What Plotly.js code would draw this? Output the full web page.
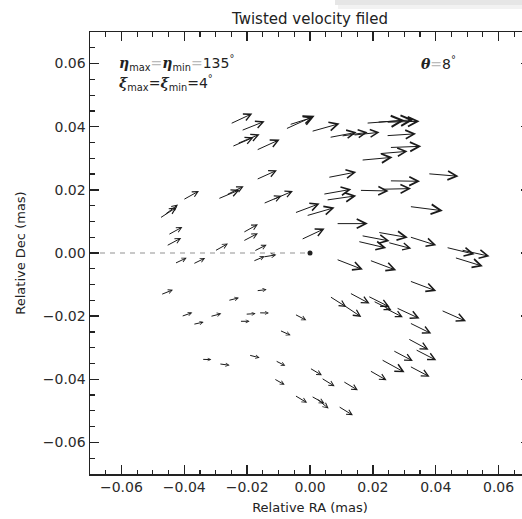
<!DOCTYPE html>
<html><head><meta charset="utf-8">
<script src="https://cdn.plot.ly/plotly-3.0.1.min.js"></script>
<style>html,body{margin:0;padding:0;overflow:hidden;background:#fff}#chart{width:540px;height:519px}</style>
</head><body><div id="chart"></div><script>
// Arrow tails (relative RA / Dec, mas)
const tailX = [-0.02587,-0.02238,-0.02533,-0.02365,-0.01760,-0.00829,-0.00711,-0.00011,0.00561,0.00943,
0.01325,0.01738,0.02088,0.02374,0.02374,0.02479,0.02152,0.01579,0.00520,0.03701,
0.02479,0.01525,0.02215,0.00361,0.00466,-0.00542,-0.00170,-0.01538,-0.01229,0.00784,
-0.00329,0.03115,0.02110,0.01579,0.01474,0.02428,0.03115,0.04283,0.04760,0.04547,
0.00784,0.01843,0.03115,-0.04836,-0.04687,-0.04092,-0.02979,-0.02715,-0.01760,-0.04569,
-0.04623,-0.04359,-0.03774,-0.03087,-0.02184,-0.02184,-0.01834,-0.01865,-0.01547,-0.04798,
-0.01760,-0.02661,-0.04146,-0.03774,-0.03230,-0.02110,-0.02292,-0.01681,-0.01019,-0.00542,
-0.03494,-0.02947,-0.01999,-0.01156,-0.01198,0.00571,0.00997,0.01207,0.01792,0.01961,
0.02320,0.02692,0.04124,0.03115,0.03065,0.03297,0.02587,0.02215,0.03115,0.01843,
-0.00065,0.00307,0.00997,-0.00542,-0.00011,0.00148,0.00848];
const tailY = [0.04067,0.03855,0.03348,0.03443,0.03231,0.03902,0.04045,0.03833,0.03649,0.03697,
0.03728,0.04108,0.04140,0.04140,0.03712,0.03339,0.03142,0.02936,0.02382,0.02515,
0.02287,0.01986,0.02018,0.01850,0.01669,0.01248,0.01163,0.01543,0.01669,0.00931,
0.00402,0.01479,0.00665,0.00561,0.00380,0.00348,0.00529,0.00190,0.00108,-0.00127,
-0.00177,-0.00209,-0.00865,0.01067,0.01163,0.01653,0.01691,0.01812,0.02303,0.00545,
0.00196,-0.00358,-0.00374,0.00032,0.00615,0.00348,0.00032,-0.00285,-0.00136,-0.01340,
-0.01204,-0.01520,-0.02027,-0.02274,-0.02027,-0.01942,-0.02163,-0.01894,-0.02426,-0.01910,
-0.03367,-0.03503,-0.03218,-0.03383,-0.03953,-0.01340,-0.01603,-0.01235,-0.01340,-0.01498,
-0.01710,-0.01710,-0.01793,-0.02186,-0.02686,-0.03028,-0.03060,-0.03345,-0.03557,-0.03693,
-0.03611,-0.03928,-0.04032,-0.04476,-0.04507,-0.04561,-0.04824];
// Arrow heads
const headX = [-0.01834,-0.01442,-0.01792,-0.01601,-0.00965,0.00148,0.00084,0.00943,0.01484,0.01834,
0.02215,0.03010,0.03297,0.03488,0.03376,0.03542,0.03106,0.02629,0.01474,0.04728,
0.03503,0.02502,0.03217,0.01315,0.01474,0.00307,0.00784,-0.00902,-0.00542,0.01843,
0.00466,0.04229,0.03115,0.02533,0.02428,0.03224,0.04019,0.05237,0.05714,0.05501,
0.01684,0.02746,0.04019,-0.04241,-0.04200,-0.03532,-0.02238,-0.02110,-0.01051,-0.04060,
-0.04098,-0.03923,-0.03335,-0.02610,-0.01656,-0.01656,-0.01379,-0.01442,-0.01070,-0.04359,
-0.01379,-0.02260,-0.03742,-0.03383,-0.02820,-0.01729,-0.01920,-0.01306,-0.00615,-0.00116,
-0.03138,-0.02556,-0.01601,-0.00784,-0.00806,0.01156,0.01633,0.01897,0.02533,0.02597,
0.02956,0.03488,0.04967,0.03860,0.03774,0.04019,0.03274,0.03010,0.03806,0.02438,
0.00380,0.00784,0.01525,-0.00091,0.00466,0.00593,0.01366];
const headY = [0.04416,0.04172,0.03665,0.03760,0.03592,0.04346,0.04298,0.04099,0.03823,0.03823,
0.03823,0.04203,0.04219,0.04172,0.03776,0.03380,0.03221,0.03031,0.02566,0.02430,
0.02271,0.01964,0.02040,0.02018,0.01812,0.01565,0.01438,0.01812,0.01964,0.00931,
0.00773,0.01337,0.00488,0.00380,0.00158,0.00139,0.00244,-0.00041,-0.00105,-0.00421,
-0.00526,-0.00548,-0.01204,0.01448,0.01533,0.01964,0.02002,0.02113,0.02620,0.00824,
0.00475,-0.00152,-0.00158,0.00298,0.00909,0.00624,0.00260,-0.00105,-0.00057,-0.01166,
-0.01159,-0.01419,-0.01888,-0.02186,-0.01920,-0.01920,-0.02163,-0.01900,-0.02607,-0.02132,
-0.03377,-0.03557,-0.03320,-0.03573,-0.04175,-0.01710,-0.02027,-0.01603,-0.01710,-0.01815,
-0.02037,-0.02078,-0.02163,-0.02553,-0.03066,-0.03399,-0.03421,-0.03779,-0.03921,-0.04032,
-0.03874,-0.04222,-0.04349,-0.04745,-0.04770,-0.04929,-0.05141];
// Reference line and origin
const refLineX = [-0.07, 0.0];
const refLineY = [0.0, 0.0];
const originX = [0.0];
const originY = [0.0];
const axisRange = [-0.07, 0.07];

const W = 540, H = 519, M = {l: 90, r: 10, t: 32, b: 45};
const pxPerX = (W - M.l - M.r) / (axisRange[1] - axisRange[0]);
const pxPerY = (H - M.t - M.b) / (axisRange[1] - axisRange[0]);
const FONT = 'DejaVu Sans';
const INK = '#222';

const arrowAnns = tailX.map((x0, i) => {
  const dx = (headX[i] - x0) * pxPerX, dy = (headY[i] - tailY[i]) * pxPerY;
  const L = Math.hypot(dx, dy);
  const aw = 1.0;
  return {x: headX[i], y: headY[i], ax: x0, ay: tailY[i],
    xref: 'x', yref: 'y', axref: 'x', ayref: 'y',
    showarrow: true, arrowhead: 5, arrowwidth: aw,
    arrowsize: Math.max(0.5, 0.25 * L / (4.6 * aw)),
    arrowcolor: '#1a1a1a', text: ' ', standoff: 0, startstandoff: 0};
});

const greek = s => '<span style="font-family:\'DejaVu Serif\';font-weight:bold;font-style:italic">' + s + '</span>';
const eq = '<span style="color:#bbb">=</span>';
const textAnns = [
  {xref: 'paper', yref: 'paper', x: 0.062, y: 0.929, xanchor: 'left', yanchor: 'middle', showarrow: false,
   text: greek('η') + '<sub>max</sub>' + eq + greek('η') + '<sub>min</sub>' + eq + '135<sup>°</sup>',
   font: {family: FONT, size: 14, color: INK}},
  {xref: 'paper', yref: 'paper', x: 0.062, y: 0.884, xanchor: 'left', yanchor: 'middle', showarrow: false,
   text: greek('ξ') + '<sub>max</sub>=' + greek('ξ') + '<sub>min</sub>=4<sup>°</sup>',
   font: {family: FONT, size: 14, color: INK}},
  {xref: 'paper', yref: 'paper', x: 0.748, y: 0.929, xanchor: 'left', yanchor: 'middle', showarrow: false,
   text: greek('θ') + eq + '8<sup>°</sup>',
   font: {family: FONT, size: 14, color: INK}}
];

const axisCommon = {
  range: axisRange, tick0: 0, dtick: 0.02, tickformat: '.2f',
  ticks: 'inside', ticklen: 9, tickwidth: 1.3, tickcolor: INK,
  showline: true, linecolor: INK, linewidth: 1.5, mirror: 'ticks',
  showgrid: false, zeroline: false,
  minor: {dtick: 0.005, tick0: 0, ticks: 'inside', ticklen: 4.5, tickwidth: 1.2, tickcolor: INK, showgrid: false},
  tickfont: {family: FONT, size: 14, color: '#2a2a2a'}
};

const traces = [
  {x: refLineX, y: refLineY, mode: 'lines', line: {color: '#c8c8c8', width: 2, dash: '5px,5px'}, hoverinfo: 'skip', showlegend: false},
  {x: originX, y: originY, mode: 'markers', marker: {symbol: 'circle', size: 5, color: INK}, showlegend: false}
];

// faint window shadow seen at the top-right of the reference
const shadow = [
  {type: 'rect', xref: 'paper', yref: 'paper', x0: (335 - M.l) / 440, x1: 1.05, y0: (474 - 5) / 442, y1: 1.08,
   fillcolor: '#e6e6e6', line: {width: 0}, layer: 'above'},
  {type: 'rect', xref: 'paper', yref: 'paper', x0: (338 - M.l) / 440, x1: 1.05, y0: (474 - 9) / 442, y1: (474 - 5) / 442,
   fillcolor: '#f2f2f2', line: {width: 0}, layer: 'above'}
];

const layout = {
  width: W, height: H, margin: M, paper_bgcolor: '#fff', plot_bgcolor: '#fff',
  showlegend: false, shapes: shadow,
  title: {text: 'Twisted velocity filed', font: {family: FONT, size: 15, color: INK},
          x: 0.5, xref: 'paper', xanchor: 'center', y: 1 - 19 / H, yref: 'container', yanchor: 'middle'},
  xaxis: Object.assign({}, axisCommon, {title: {text: 'Relative RA (mas)', font: {family: FONT, size: 13, color: INK}, standoff: 8}}),
  yaxis: Object.assign({}, axisCommon, {title: {text: 'Relative Dec (mas)', font: {family: FONT, size: 13, color: INK}, standoff: 14}}),
  annotations: arrowAnns.concat(textAnns)
};

Plotly.newPlot('chart', traces, layout, {displayModeBar: false, staticPlot: true});
</script></body></html>
